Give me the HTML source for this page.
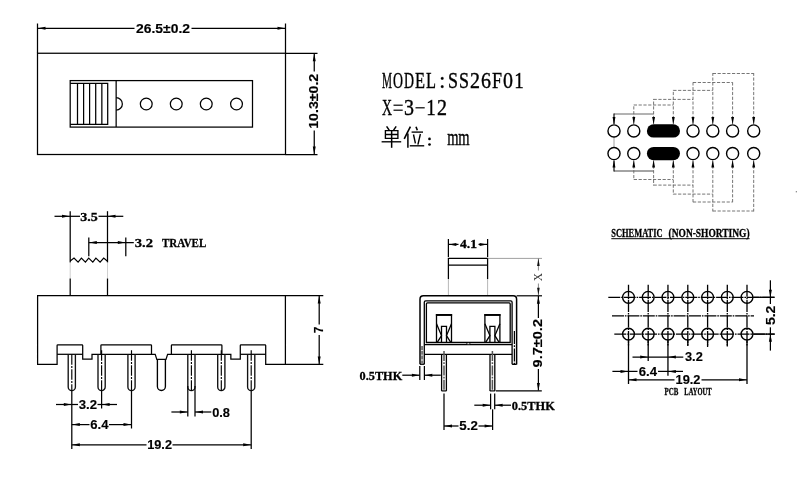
<!DOCTYPE html>
<html><head><meta charset="utf-8"><title>SS26F01</title>
<style>
html,body{margin:0;padding:0;background:#fff;}
body{width:800px;height:480px;overflow:hidden;font-family:"Liberation Sans",sans-serif;}
svg{display:block;will-change:transform;transform:translateZ(0);}
</style></head><body>
<svg width="800" height="480" viewBox="0 0 800 480">
<rect x="37.5" y="53.25" width="248.0" height="101.25" rx="0" stroke="#000" stroke-width="1.25" fill="none"/>
<line x1="37.5" y1="23.5" x2="37.5" y2="53.25" stroke="#000" stroke-width="1.25" stroke-linecap="butt"/>
<line x1="285.5" y1="23.5" x2="285.5" y2="53.25" stroke="#000" stroke-width="1.25" stroke-linecap="butt"/>
<line x1="37.5" y1="28.25" x2="134.5" y2="28.25" stroke="#000" stroke-width="1.25" stroke-linecap="butt"/>
<line x1="191.5" y1="28.25" x2="285.5" y2="28.25" stroke="#000" stroke-width="1.25" stroke-linecap="butt"/>
<polygon points="38,28.25 45.5,26.75 45.5,29.75" fill="#000"/>
<polygon points="285,28.25 277.5,26.75 277.5,29.75" fill="#000"/>
<text x="136" y="32.8" font-family="'Liberation Sans', sans-serif" font-size="12.3" font-weight="bold" fill="#000" stroke="#000" stroke-width="0.15" text-anchor="start" textLength="54" lengthAdjust="spacingAndGlyphs">26.5±0.2</text>
<line x1="285.5" y1="53.25" x2="317.5" y2="53.25" stroke="#000" stroke-width="1.25" stroke-linecap="butt"/>
<line x1="285.5" y1="154.5" x2="317.5" y2="154.5" stroke="#000" stroke-width="1.25" stroke-linecap="butt"/>
<line x1="314.25" y1="53.5" x2="314.25" y2="71.5" stroke="#000" stroke-width="1.25" stroke-linecap="butt"/>
<line x1="314.25" y1="130.5" x2="314.25" y2="154.5" stroke="#000" stroke-width="1.25" stroke-linecap="butt"/>
<polygon points="314.25,53.8 312.75,61.3 315.75,61.3" fill="#000"/>
<polygon points="314.25,154 312.75,146.5 315.75,146.5" fill="#000"/>
<text x="318" y="128.75" font-family="'Liberation Sans', sans-serif" font-size="12.3" font-weight="bold" fill="#000" stroke="#000" stroke-width="0.15" text-anchor="start" textLength="55" lengthAdjust="spacingAndGlyphs" transform="rotate(-90 318 128.75)">10.3±0.2</text>
<rect x="70.2" y="80.6" width="182.3" height="46.5" rx="0" stroke="#000" stroke-width="1.25" fill="none"/>
<path d="M70.2,83.4 H107.7 V124.4 H70.2" stroke="#000" stroke-width="1.25" fill="none" stroke-linejoin="miter"/>
<line x1="77.5" y1="83.4" x2="77.5" y2="124.4" stroke="#000" stroke-width="1.25" stroke-linecap="butt"/>
<line x1="83.6" y1="83.4" x2="83.6" y2="124.4" stroke="#000" stroke-width="1.25" stroke-linecap="butt"/>
<line x1="89.6" y1="83.4" x2="89.6" y2="124.4" stroke="#000" stroke-width="1.25" stroke-linecap="butt"/>
<line x1="95.7" y1="83.4" x2="95.7" y2="124.4" stroke="#000" stroke-width="1.25" stroke-linecap="butt"/>
<line x1="101.85" y1="83.4" x2="101.85" y2="124.4" stroke="#000" stroke-width="1.25" stroke-linecap="butt"/>
<line x1="116.15" y1="80.6" x2="116.15" y2="127.1" stroke="#000" stroke-width="1.25" stroke-linecap="butt"/>
<path d="M116.15,97.7 A6.2,6.2 0 0 1 116.15,110.1" stroke="#000" stroke-width="1.25" fill="none" stroke-linejoin="miter"/>
<circle cx="146.25" cy="104.0" r="5.9" stroke="#000" stroke-width="1.25" fill="none"/>
<circle cx="176.25" cy="104.0" r="5.9" stroke="#000" stroke-width="1.25" fill="none"/>
<circle cx="206.25" cy="104.0" r="5.9" stroke="#000" stroke-width="1.25" fill="none"/>
<circle cx="236.5" cy="104.0" r="5.9" stroke="#000" stroke-width="1.25" fill="none"/>
<text transform="translate(387.1 87.8) scale(0.473 1)" x="0" y="0" text-anchor="middle" font-family="'Liberation Serif', serif" font-size="23.8" fill="#000" stroke="#000" stroke-width="0.4">M</text>
<text transform="translate(398.1 87.8) scale(0.582 1)" x="0" y="0" text-anchor="middle" font-family="'Liberation Serif', serif" font-size="23.8" fill="#000" stroke="#000" stroke-width="0.4">O</text>
<text transform="translate(409.1 87.8) scale(0.582 1)" x="0" y="0" text-anchor="middle" font-family="'Liberation Serif', serif" font-size="23.8" fill="#000" stroke="#000" stroke-width="0.4">D</text>
<text transform="translate(420.1 87.8) scale(0.688 1)" x="0" y="0" text-anchor="middle" font-family="'Liberation Serif', serif" font-size="23.8" fill="#000" stroke="#000" stroke-width="0.4">E</text>
<text transform="translate(431.1 87.8) scale(0.688 1)" x="0" y="0" text-anchor="middle" font-family="'Liberation Serif', serif" font-size="23.8" fill="#000" stroke="#000" stroke-width="0.4">L</text>
<text transform="translate(442.1 87.8) scale(0.9 1)" x="0" y="0" text-anchor="middle" font-family="'Liberation Serif', serif" font-size="23.8" fill="#000" stroke="#000" stroke-width="0.4">:</text>
<text transform="translate(453.1 87.8) scale(0.756 1)" x="0" y="0" text-anchor="middle" font-family="'Liberation Serif', serif" font-size="23.8" fill="#000" stroke="#000" stroke-width="0.4">S</text>
<text transform="translate(464.1 87.8) scale(0.756 1)" x="0" y="0" text-anchor="middle" font-family="'Liberation Serif', serif" font-size="23.8" fill="#000" stroke="#000" stroke-width="0.4">S</text>
<text transform="translate(475.1 87.8) scale(0.84 1)" x="0" y="0" text-anchor="middle" font-family="'Liberation Serif', serif" font-size="23.8" fill="#000" stroke="#000" stroke-width="0.4">2</text>
<text transform="translate(486.1 87.8) scale(0.84 1)" x="0" y="0" text-anchor="middle" font-family="'Liberation Serif', serif" font-size="23.8" fill="#000" stroke="#000" stroke-width="0.4">6</text>
<text transform="translate(497.1 87.8) scale(0.756 1)" x="0" y="0" text-anchor="middle" font-family="'Liberation Serif', serif" font-size="23.8" fill="#000" stroke="#000" stroke-width="0.4">F</text>
<text transform="translate(508.1 87.8) scale(0.84 1)" x="0" y="0" text-anchor="middle" font-family="'Liberation Serif', serif" font-size="23.8" fill="#000" stroke="#000" stroke-width="0.4">0</text>
<text transform="translate(519.1 87.8) scale(0.8 1)" x="0" y="0" text-anchor="middle" font-family="'Liberation Serif', serif" font-size="23.8" fill="#000" stroke="#000" stroke-width="0.4">1</text>
<text transform="translate(387.1 114.8) scale(0.582 1)" x="0" y="0" text-anchor="middle" font-family="'Liberation Serif', serif" font-size="23.8" fill="#000" stroke="#000" stroke-width="0.4">X</text>
<line x1="393.5" y1="105.2" x2="402.70000000000005" y2="105.2" stroke="#000" stroke-width="1.2" stroke-linecap="butt"/>
<line x1="393.5" y1="110.2" x2="402.70000000000005" y2="110.2" stroke="#000" stroke-width="1.2" stroke-linecap="butt"/>
<text transform="translate(409.1 114.8) scale(0.84 1)" x="0" y="0" text-anchor="middle" font-family="'Liberation Serif', serif" font-size="23.8" fill="#000" stroke="#000" stroke-width="0.4">3</text>
<line x1="415.5" y1="107.8" x2="424.70000000000005" y2="107.8" stroke="#000" stroke-width="1.2" stroke-linecap="butt"/>
<text transform="translate(431.1 114.8) scale(0.8 1)" x="0" y="0" text-anchor="middle" font-family="'Liberation Serif', serif" font-size="23.8" fill="#000" stroke="#000" stroke-width="0.4">1</text>
<text transform="translate(442.1 114.8) scale(0.84 1)" x="0" y="0" text-anchor="middle" font-family="'Liberation Serif', serif" font-size="23.8" fill="#000" stroke="#000" stroke-width="0.4">2</text>
<path d="M386.6,126.3 L389.2,130.2 M396.2,126.3 L393.6,130.2" stroke="#000" stroke-width="1.5" fill="none" stroke-linejoin="miter"/>
<path d="M385.4,130.6 H397.9 V138.3 H385.4 Z M385.4,134.5 H397.9" stroke="#000" stroke-width="1.35" fill="none" stroke-linejoin="miter"/>
<path d="M391.65,130.6 V147.8" stroke="#000" stroke-width="1.5" fill="none" stroke-linejoin="miter"/>
<path d="M381.6,141.8 H401.2" stroke="#000" stroke-width="1.35" fill="none" stroke-linejoin="miter"/>
<path d="M410.4,126.6 L404.2,138.8" stroke="#000" stroke-width="1.6" fill="none" stroke-linejoin="miter"/>
<path d="M407.9,133.4 V147.8" stroke="#000" stroke-width="1.5" fill="none" stroke-linejoin="miter"/>
<path d="M416,126.8 L417.3,130.2" stroke="#000" stroke-width="1.6" fill="none" stroke-linejoin="miter"/>
<path d="M411.6,132.1 H423" stroke="#000" stroke-width="1.35" fill="none" stroke-linejoin="miter"/>
<path d="M413.5,134.5 L415.4,143.3" stroke="#000" stroke-width="1.4" fill="none" stroke-linejoin="miter"/>
<path d="M420.4,134 L417.9,144.6" stroke="#000" stroke-width="1.4" fill="none" stroke-linejoin="miter"/>
<path d="M409.8,145.8 H424.2" stroke="#000" stroke-width="1.35" fill="none" stroke-linejoin="miter"/>
<circle cx="429.5" cy="138.9" r="1.35" fill="#000"/>
<circle cx="429.5" cy="144.5" r="1.35" fill="#000"/>
<text transform="translate(453.0 145.2) scale(0.61 1)" x="0" y="0" text-anchor="middle" font-family="'Liberation Serif', serif" font-size="23.8" fill="#000" stroke="#000" stroke-width="0.4">m</text>
<text transform="translate(464.0 145.2) scale(0.61 1)" x="0" y="0" text-anchor="middle" font-family="'Liberation Serif', serif" font-size="23.8" fill="#000" stroke="#000" stroke-width="0.4">m</text>
<line x1="614" y1="114" x2="653.6" y2="114" stroke="#555" stroke-width="0.9" stroke-linecap="butt"/>
<line x1="614" y1="171" x2="653.6" y2="171" stroke="#333" stroke-width="0.9" stroke-linecap="butt"/>
<line x1="633.8" y1="105" x2="673.3" y2="105" stroke="#666" stroke-width="0.9" stroke-dasharray="3.2 1.6" stroke-linecap="butt"/>
<line x1="633.8" y1="179.5" x2="673.3" y2="179.5" stroke="#666" stroke-width="0.9" stroke-dasharray="3.2 1.6" stroke-linecap="butt"/>
<line x1="653.6" y1="99.4" x2="693" y2="99.4" stroke="#666" stroke-width="0.9" stroke-dasharray="3.2 1.6" stroke-linecap="butt"/>
<line x1="653.6" y1="185.1" x2="693" y2="185.1" stroke="#666" stroke-width="0.9" stroke-dasharray="3.2 1.6" stroke-linecap="butt"/>
<line x1="673.3" y1="90.4" x2="712.8" y2="90.4" stroke="#666" stroke-width="0.9" stroke-dasharray="3.2 1.6" stroke-linecap="butt"/>
<line x1="673.3" y1="194.1" x2="712.8" y2="194.1" stroke="#666" stroke-width="0.9" stroke-dasharray="3.2 1.6" stroke-linecap="butt"/>
<line x1="693" y1="82.5" x2="732.6" y2="82.5" stroke="#666" stroke-width="0.9" stroke-dasharray="3.2 1.6" stroke-linecap="butt"/>
<line x1="693" y1="202" x2="732.6" y2="202" stroke="#666" stroke-width="0.9" stroke-dasharray="3.2 1.6" stroke-linecap="butt"/>
<line x1="712.8" y1="73.5" x2="753.7" y2="73.5" stroke="#666" stroke-width="0.9" stroke-dasharray="3.2 1.6" stroke-linecap="butt"/>
<line x1="712.8" y1="211" x2="753.7" y2="211" stroke="#666" stroke-width="0.9" stroke-dasharray="3.2 1.6" stroke-linecap="butt"/>
<line x1="614" y1="123.9" x2="614" y2="113.55" stroke="#111" stroke-width="1.2" stroke-linecap="butt"/>
<line x1="614" y1="160.6" x2="614" y2="171.45" stroke="#111" stroke-width="1.2" stroke-linecap="butt"/>
<line x1="633.8" y1="123.9" x2="633.8" y2="104.55" stroke="#666" stroke-width="0.9" stroke-dasharray="3.2 1.6" stroke-linecap="butt"/>
<line x1="633.8" y1="160.6" x2="633.8" y2="179.95" stroke="#666" stroke-width="0.9" stroke-dasharray="3.2 1.6" stroke-linecap="butt"/>
<line x1="653.6" y1="123.9" x2="653.6" y2="98.95" stroke="#666" stroke-width="0.9" stroke-dasharray="3.2 1.6" stroke-linecap="butt"/>
<line x1="653.6" y1="160.6" x2="653.6" y2="185.54999999999998" stroke="#666" stroke-width="0.9" stroke-dasharray="3.2 1.6" stroke-linecap="butt"/>
<line x1="673.3" y1="123.9" x2="673.3" y2="89.95" stroke="#666" stroke-width="0.9" stroke-dasharray="3.2 1.6" stroke-linecap="butt"/>
<line x1="673.3" y1="160.6" x2="673.3" y2="194.54999999999998" stroke="#666" stroke-width="0.9" stroke-dasharray="3.2 1.6" stroke-linecap="butt"/>
<line x1="693" y1="123.9" x2="693" y2="82.05" stroke="#666" stroke-width="0.9" stroke-dasharray="3.2 1.6" stroke-linecap="butt"/>
<line x1="693" y1="160.6" x2="693" y2="202.45" stroke="#666" stroke-width="0.9" stroke-dasharray="3.2 1.6" stroke-linecap="butt"/>
<line x1="712.8" y1="123.9" x2="712.8" y2="73.05" stroke="#666" stroke-width="0.9" stroke-dasharray="3.2 1.6" stroke-linecap="butt"/>
<line x1="712.8" y1="160.6" x2="712.8" y2="211.45" stroke="#666" stroke-width="0.9" stroke-dasharray="3.2 1.6" stroke-linecap="butt"/>
<line x1="732.6" y1="123.9" x2="732.6" y2="82.05" stroke="#666" stroke-width="0.9" stroke-dasharray="3.2 1.6" stroke-linecap="butt"/>
<line x1="732.6" y1="160.6" x2="732.6" y2="202.45" stroke="#666" stroke-width="0.9" stroke-dasharray="3.2 1.6" stroke-linecap="butt"/>
<line x1="753.7" y1="123.9" x2="753.7" y2="73.05" stroke="#666" stroke-width="0.9" stroke-dasharray="3.2 1.6" stroke-linecap="butt"/>
<line x1="753.7" y1="160.6" x2="753.7" y2="211.45" stroke="#666" stroke-width="0.9" stroke-dasharray="3.2 1.6" stroke-linecap="butt"/>
<line x1="614" y1="136.9" x2="614" y2="147.6" stroke="#888" stroke-width="0.8" stroke-linecap="butt"/>
<polygon points="614,124.5 612.55,117.0 615.45,117.0" fill="#000"/>
<polygon points="614,160.0 612.55,167.5 615.45,167.5" fill="#000"/>
<polygon points="633.8,124.5 632.35,117.0 635.25,117.0" fill="#000"/>
<polygon points="633.8,160.0 632.35,167.5 635.25,167.5" fill="#000"/>
<polygon points="653.6,124.5 652.15,117.0 655.05,117.0" fill="#000"/>
<polygon points="653.6,160.0 652.15,167.5 655.05,167.5" fill="#000"/>
<polygon points="673.3,124.5 671.85,117.0 674.75,117.0" fill="#000"/>
<polygon points="673.3,160.0 671.85,167.5 674.75,167.5" fill="#000"/>
<polygon points="693,124.5 691.55,117.0 694.45,117.0" fill="#000"/>
<polygon points="693,160.0 691.55,167.5 694.45,167.5" fill="#000"/>
<polygon points="712.8,124.5 711.35,117.0 714.25,117.0" fill="#000"/>
<polygon points="712.8,160.0 711.35,167.5 714.25,167.5" fill="#000"/>
<polygon points="732.6,124.5 731.15,117.0 734.05,117.0" fill="#000"/>
<polygon points="732.6,160.0 731.15,167.5 734.05,167.5" fill="#000"/>
<polygon points="753.7,124.5 752.25,117.0 755.15,117.0" fill="#000"/>
<polygon points="753.7,160.0 752.25,167.5 755.15,167.5" fill="#000"/>
<circle cx="614" cy="130.9" r="6.05" stroke="#000" stroke-width="1.4" fill="#fff"/>
<circle cx="633.8" cy="130.9" r="6.05" stroke="#000" stroke-width="1.4" fill="#fff"/>
<circle cx="693" cy="130.9" r="6.05" stroke="#000" stroke-width="1.4" fill="#fff"/>
<circle cx="712.8" cy="130.9" r="6.05" stroke="#000" stroke-width="1.4" fill="#fff"/>
<circle cx="732.6" cy="130.9" r="6.05" stroke="#000" stroke-width="1.4" fill="#fff"/>
<circle cx="753.7" cy="130.9" r="6.05" stroke="#000" stroke-width="1.4" fill="#fff"/>
<rect x="646.9" y="124.2" width="33.1" height="13.4" rx="6.7" stroke="#000" stroke-width="0" fill="#000"/>
<circle cx="614" cy="153.6" r="6.05" stroke="#000" stroke-width="1.4" fill="#fff"/>
<circle cx="633.8" cy="153.6" r="6.05" stroke="#000" stroke-width="1.4" fill="#fff"/>
<circle cx="693" cy="153.6" r="6.05" stroke="#000" stroke-width="1.4" fill="#fff"/>
<circle cx="712.8" cy="153.6" r="6.05" stroke="#000" stroke-width="1.4" fill="#fff"/>
<circle cx="732.6" cy="153.6" r="6.05" stroke="#000" stroke-width="1.4" fill="#fff"/>
<circle cx="753.7" cy="153.6" r="6.05" stroke="#000" stroke-width="1.4" fill="#fff"/>
<rect x="646.9" y="146.9" width="33.1" height="13.4" rx="6.7" stroke="#000" stroke-width="0" fill="#000"/>
<text x="611.3" y="237" font-family="'Liberation Serif', serif" font-size="11.8" font-weight="bold" fill="#000" stroke="#000" stroke-width="0.3" text-anchor="start" textLength="51.3" lengthAdjust="spacingAndGlyphs">SCHEMATIC</text>
<text x="668.6" y="237" font-family="'Liberation Serif', serif" font-size="11.8" font-weight="bold" fill="#000" stroke="#000" stroke-width="0.3" text-anchor="start" textLength="81" lengthAdjust="spacingAndGlyphs">(NON-SHORTING)</text>
<line x1="611.3" y1="238.7" x2="749.6" y2="238.7" stroke="#000" stroke-width="1.0" stroke-linecap="butt"/>
<rect x="795.8" y="191" width="1" height="1.4" fill="#777"/>
<path d="M37.6,295.6 H285.4 V364.4 H265.7 V345.5 Q265.7,344.8 265,344.8 H241 Q240.3,344.8 240.3,345.5 V359.2 H230.85 V354.3 H167.6 L166,359.4 H156.8 L155.2,354.3 H92 V359.2 H82.7 V345.5 Q82.7,344.8 82,344.8 H57.8 Q57.1,344.8 57.1,345.5 V364.4 H37.6 Z" stroke="#000" stroke-width="1.25" fill="none" stroke-linejoin="miter"/>
<line x1="57.1" y1="354.3" x2="82.7" y2="354.3" stroke="#000" stroke-width="1.25" stroke-linecap="butt"/>
<line x1="240.3" y1="354.3" x2="265.7" y2="354.3" stroke="#000" stroke-width="1.25" stroke-linecap="butt"/>
<path d="M100.9,354.3 V345.5 Q100.9,344.8 101.6,344.8 H150.8 Q151.5,344.8 151.5,345.5 V354.3" stroke="#000" stroke-width="1.25" fill="none" stroke-linejoin="miter"/>
<path d="M171.4,354.3 V345.5 Q171.4,344.8 172.1,344.8 H221.2 Q221.9,344.8 221.9,345.5 V354.3" stroke="#000" stroke-width="1.25" fill="none" stroke-linejoin="miter"/>
<path d="M68.2,354.3 V387 A3.6,3.6 0 0 0 75.39999999999999,387 V354.3" stroke="#111" stroke-width="1.35" fill="none" stroke-linejoin="miter"/>
<line x1="71.8" y1="354.3" x2="71.8" y2="391" stroke="#000" stroke-width="1.15" stroke-dasharray="10.5 1.3 1.9 1.3" stroke-linecap="butt"/>
<path d="M98.0,354.3 V387 A3.6,3.6 0 0 0 105.19999999999999,387 V354.3" stroke="#111" stroke-width="1.35" fill="none" stroke-linejoin="miter"/>
<line x1="101.6" y1="350.2" x2="101.6" y2="391" stroke="#000" stroke-width="1.15" stroke-dasharray="10.5 1.3 1.9 1.3" stroke-linecap="butt"/>
<path d="M127.9,354.3 V387 A3.6,3.6 0 0 0 135.1,387 V354.3" stroke="#111" stroke-width="1.35" fill="none" stroke-linejoin="miter"/>
<line x1="131.5" y1="350.2" x2="131.5" y2="391" stroke="#000" stroke-width="1.15" stroke-dasharray="10.5 1.3 1.9 1.3" stroke-linecap="butt"/>
<path d="M187.8,354.3 V387 A3.6,3.6 0 0 0 195.0,387 V354.3" stroke="#111" stroke-width="1.35" fill="none" stroke-linejoin="miter"/>
<line x1="191.4" y1="350.2" x2="191.4" y2="391" stroke="#000" stroke-width="1.15" stroke-dasharray="10.5 1.3 1.9 1.3" stroke-linecap="butt"/>
<path d="M217.70000000000002,354.3 V387 A3.6,3.6 0 0 0 224.9,387 V354.3" stroke="#111" stroke-width="1.35" fill="none" stroke-linejoin="miter"/>
<line x1="221.3" y1="350.2" x2="221.3" y2="391" stroke="#000" stroke-width="1.15" stroke-dasharray="10.5 1.3 1.9 1.3" stroke-linecap="butt"/>
<path d="M247.6,354.3 V387 A3.6,3.6 0 0 0 254.79999999999998,387 V354.3" stroke="#111" stroke-width="1.35" fill="none" stroke-linejoin="miter"/>
<line x1="251.2" y1="350.2" x2="251.2" y2="391" stroke="#000" stroke-width="1.15" stroke-dasharray="10.5 1.3 1.9 1.3" stroke-linecap="butt"/>
<path d="M157.4,359.4 V386.5 A4,4 0 0 0 165.4,386.5 V359.4" stroke="#000" stroke-width="1.35" fill="none" stroke-linejoin="miter"/>
<line x1="70.2" y1="211.2" x2="70.2" y2="262.5" stroke="#000" stroke-width="1.25" stroke-linecap="butt"/>
<line x1="70.2" y1="262.5" x2="70.2" y2="278.5" stroke="#bbb" stroke-width="0.7" stroke-linecap="butt"/>
<line x1="70.2" y1="278.5" x2="70.2" y2="295.6" stroke="#000" stroke-width="1.25" stroke-linecap="butt"/>
<line x1="107.5" y1="211.2" x2="107.5" y2="262.5" stroke="#000" stroke-width="1.25" stroke-linecap="butt"/>
<line x1="107.5" y1="262.5" x2="107.5" y2="278.5" stroke="#bbb" stroke-width="0.7" stroke-linecap="butt"/>
<line x1="107.5" y1="278.5" x2="107.5" y2="295.6" stroke="#000" stroke-width="1.25" stroke-linecap="butt"/>
<path d="M70.2,261 L74,258.1 L78.1,262.2 L81.4,258.1 L85.4,262.2 L88.7,258.1 L92.8,262.2 L95.9,258.1 L100.1,262.2 L103.7,258.1 L107.5,261.2" stroke="#000" stroke-width="1.2" fill="none" stroke-linejoin="miter"/>
<line x1="54.5" y1="216.3" x2="70" y2="216.3" stroke="#000" stroke-width="1.25" stroke-linecap="butt"/>
<line x1="70" y1="216.3" x2="80" y2="216.3" stroke="#000" stroke-width="1.25" stroke-linecap="butt"/>
<line x1="98.5" y1="216.3" x2="107.5" y2="216.3" stroke="#000" stroke-width="1.25" stroke-linecap="butt"/>
<line x1="107.5" y1="216.3" x2="123.3" y2="216.3" stroke="#000" stroke-width="1.25" stroke-linecap="butt"/>
<polygon points="69.5,216.3 62.0,214.8 62.0,217.8" fill="#000"/>
<polygon points="108,216.3 115.5,214.8 115.5,217.8" fill="#000"/>
<text x="80.3" y="220.8" font-family="'Liberation Serif', serif" font-size="12.8" font-weight="bold" fill="#000" stroke="#000" stroke-width="0.3" text-anchor="start" textLength="17.5" lengthAdjust="spacingAndGlyphs">3.5</text>
<line x1="88.8" y1="237.5" x2="88.8" y2="256.3" stroke="#000" stroke-width="1.25" stroke-linecap="butt"/>
<line x1="125.8" y1="237.5" x2="125.8" y2="256.3" stroke="#000" stroke-width="1.25" stroke-linecap="butt"/>
<line x1="88.8" y1="242.5" x2="133.8" y2="242.5" stroke="#000" stroke-width="1.25" stroke-linecap="butt"/>
<polygon points="89.3,242.5 96.8,241.0 96.8,244.0" fill="#000"/>
<polygon points="125.3,242.5 117.8,241.0 117.8,244.0" fill="#000"/>
<text x="134.8" y="246.9" font-family="'Liberation Serif', serif" font-size="13.1" font-weight="bold" fill="#000" stroke="#000" stroke-width="0.3" text-anchor="start" textLength="18.3" lengthAdjust="spacingAndGlyphs">3.2</text>
<text x="161.9" y="246.9" font-family="'Liberation Serif', serif" font-size="13.1" font-weight="bold" fill="#000" stroke="#000" stroke-width="0.3" text-anchor="start" textLength="44.4" lengthAdjust="spacingAndGlyphs">TRAVEL</text>
<line x1="285.4" y1="295.6" x2="323.3" y2="295.6" stroke="#000" stroke-width="1.25" stroke-linecap="butt"/>
<line x1="285.4" y1="364.4" x2="323.3" y2="364.4" stroke="#000" stroke-width="1.25" stroke-linecap="butt"/>
<line x1="319.2" y1="296" x2="319.2" y2="324.5" stroke="#000" stroke-width="1.25" stroke-linecap="butt"/>
<line x1="319.2" y1="335" x2="319.2" y2="364" stroke="#000" stroke-width="1.25" stroke-linecap="butt"/>
<polygon points="319.2,296 317.7,303.5 320.7,303.5" fill="#000"/>
<polygon points="319.2,364 317.7,356.5 320.7,356.5" fill="#000"/>
<text x="322.9" y="333.3" font-family="'Liberation Sans', sans-serif" font-size="12.3" font-weight="bold" fill="#000" stroke="#000" stroke-width="0.15" text-anchor="start" textLength="6.6" lengthAdjust="spacingAndGlyphs" transform="rotate(-90 322.9 333.3)">7</text>
<line x1="71.8" y1="391" x2="71.8" y2="449" stroke="#000" stroke-width="1.25" stroke-linecap="butt"/>
<line x1="251.2" y1="391" x2="251.2" y2="449" stroke="#000" stroke-width="1.25" stroke-linecap="butt"/>
<line x1="101.6" y1="391" x2="101.6" y2="408.5" stroke="#000" stroke-width="1.25" stroke-linecap="butt"/>
<line x1="131.5" y1="391" x2="131.5" y2="428.5" stroke="#000" stroke-width="1.25" stroke-linecap="butt"/>
<line x1="56" y1="404.5" x2="71.8" y2="404.5" stroke="#000" stroke-width="1.25" stroke-linecap="butt"/>
<line x1="71.8" y1="404.5" x2="78" y2="404.5" stroke="#000" stroke-width="1.25" stroke-linecap="butt"/>
<line x1="101.6" y1="404.5" x2="117" y2="404.5" stroke="#000" stroke-width="1.25" stroke-linecap="butt"/>
<line x1="97.5" y1="404.5" x2="101.6" y2="404.5" stroke="#000" stroke-width="1.25" stroke-linecap="butt"/>
<polygon points="71.3,404.5 63.8,403.0 63.8,406.0" fill="#000"/>
<polygon points="102.1,404.5 109.6,403.0 109.6,406.0" fill="#000"/>
<text x="78.8" y="408.5" font-family="'Liberation Sans', sans-serif" font-size="12.6" font-weight="bold" fill="#000" stroke="#000" stroke-width="0.15" text-anchor="start" textLength="18.3" lengthAdjust="spacingAndGlyphs">3.2</text>
<line x1="71.8" y1="424.6" x2="89.5" y2="424.6" stroke="#000" stroke-width="1.25" stroke-linecap="butt"/>
<line x1="109" y1="424.6" x2="131.5" y2="424.6" stroke="#000" stroke-width="1.25" stroke-linecap="butt"/>
<polygon points="72.3,424.6 79.8,423.1 79.8,426.1" fill="#000"/>
<polygon points="131,424.6 123.5,423.1 123.5,426.1" fill="#000"/>
<text x="90.3" y="429" font-family="'Liberation Sans', sans-serif" font-size="12.6" font-weight="bold" fill="#000" stroke="#000" stroke-width="0.15" text-anchor="start" textLength="18.2" lengthAdjust="spacingAndGlyphs">6.4</text>
<line x1="71.8" y1="444.8" x2="146.5" y2="444.8" stroke="#000" stroke-width="1.25" stroke-linecap="butt"/>
<line x1="172.5" y1="444.8" x2="251.2" y2="444.8" stroke="#000" stroke-width="1.25" stroke-linecap="butt"/>
<polygon points="72.3,444.8 79.8,443.3 79.8,446.3" fill="#000"/>
<polygon points="250.7,444.8 243.2,443.3 243.2,446.3" fill="#000"/>
<text x="147.2" y="449.1" font-family="'Liberation Sans', sans-serif" font-size="12.6" font-weight="bold" fill="#000" stroke="#000" stroke-width="0.15" text-anchor="start" textLength="24.8" lengthAdjust="spacingAndGlyphs">19.2</text>
<line x1="187.8" y1="386" x2="187.8" y2="416.5" stroke="#000" stroke-width="1.25" stroke-linecap="butt"/>
<line x1="195" y1="386" x2="195" y2="416.5" stroke="#000" stroke-width="1.25" stroke-linecap="butt"/>
<line x1="171.4" y1="412" x2="187.8" y2="412" stroke="#000" stroke-width="1.25" stroke-linecap="butt"/>
<line x1="195" y1="412" x2="211.3" y2="412" stroke="#000" stroke-width="1.25" stroke-linecap="butt"/>
<polygon points="187.3,412 179.8,410.5 179.8,413.5" fill="#000"/>
<polygon points="195.5,412 203.0,410.5 203.0,413.5" fill="#000"/>
<text x="212.2" y="416.6" font-family="'Liberation Sans', sans-serif" font-size="12.6" font-weight="bold" fill="#000" stroke="#000" stroke-width="0.15" text-anchor="start" textLength="17.8" lengthAdjust="spacingAndGlyphs">0.8</text>
<line x1="448.4" y1="239" x2="448.4" y2="257" stroke="#000" stroke-width="1.25" stroke-linecap="butt"/>
<line x1="487.6" y1="239" x2="487.6" y2="257" stroke="#000" stroke-width="1.25" stroke-linecap="butt"/>
<line x1="448.4" y1="244.4" x2="458.5" y2="244.4" stroke="#000" stroke-width="1.25" stroke-linecap="butt"/>
<line x1="478.5" y1="244.4" x2="487.6" y2="244.4" stroke="#000" stroke-width="1.25" stroke-linecap="butt"/>
<polygon points="448.9,244.4 456.4,242.9 456.4,245.9" fill="#000"/>
<polygon points="487.1,244.4 479.6,242.9 479.6,245.9" fill="#000"/>
<text x="460" y="248.1" font-family="'Liberation Serif', serif" font-size="12.5" font-weight="bold" fill="#000" stroke="#000" stroke-width="0.3" text-anchor="start" textLength="17" lengthAdjust="spacingAndGlyphs">4.1</text>
<path d="M448.4,279 V258.4 H487.6 V279" stroke="#000" stroke-width="1.25" fill="none" stroke-linejoin="miter"/>
<line x1="448.4" y1="265" x2="487.6" y2="265" stroke="#000" stroke-width="1.25" stroke-linecap="butt"/>
<line x1="448.4" y1="279" x2="448.4" y2="295.6" stroke="#999" stroke-width="0.7" stroke-linecap="butt"/>
<line x1="487.6" y1="279" x2="487.6" y2="295.6" stroke="#999" stroke-width="0.7" stroke-linecap="butt"/>
<line x1="487.6" y1="258.4" x2="542" y2="258.4" stroke="#777" stroke-width="0.7" stroke-linecap="butt"/>
<line x1="538.4" y1="258.6" x2="538.4" y2="270.5" stroke="#555" stroke-width="0.7" stroke-linecap="butt"/>
<line x1="538.4" y1="283.5" x2="538.4" y2="295.4" stroke="#555" stroke-width="0.7" stroke-linecap="butt"/>
<polygon points="538.4,258.6 537.1,266.1 539.7,266.1" fill="#111"/>
<polygon points="538.4,295.3 537.1,287.8 539.7,287.8" fill="#111"/>
<text x="541.6" y="277" transform="rotate(-90 541.6 277)" text-anchor="middle" font-family="'Liberation Serif', serif" font-size="11.5" fill="#333">X</text>
<path d="M420,364.2 V299.2 Q420,295.8 423.4,295.8 H513.2 Q516.6,295.8 516.6,299.2 V364.4" stroke="#000" stroke-width="1.5" fill="none" stroke-linejoin="miter"/>
<line x1="516.6" y1="295.8" x2="542" y2="295.8" stroke="#000" stroke-width="1.2" stroke-linecap="butt"/>
<path d="M420,364.2 H424.4" stroke="#000" stroke-width="1.4" fill="none" stroke-linejoin="miter"/>
<path d="M512.1,364.3 H516.6" stroke="#000" stroke-width="1.4" fill="none" stroke-linejoin="miter"/>
<line x1="514.4" y1="331" x2="514.4" y2="364.2" stroke="#000" stroke-width="1.2" stroke-dasharray="13 1.3 1.8 1.3" stroke-linecap="butt"/>
<line x1="422.1" y1="346" x2="422.1" y2="363.4" stroke="#777" stroke-width="2.0" stroke-dasharray="4 0.8" stroke-linecap="butt"/>
<path d="M424.3,364.2 V302.2 Q424.3,300.8 425.7,300.8 H510.7 Q512.1,300.8 512.1,302.2 V364.3" stroke="#000" stroke-width="1.3" fill="none" stroke-linejoin="miter"/>
<line x1="424.3" y1="344.6" x2="512.1" y2="344.6" stroke="#000" stroke-width="1.2" stroke-linecap="butt"/>
<path d="M426.4,342.5 V303.9 Q426.4,302.9 427.4,302.9 H509.2 Q510.2,302.9 510.2,303.9 V342.5 Z" stroke="#000" stroke-width="1.3" fill="none" stroke-linejoin="miter"/>
<line x1="424.3" y1="354.4" x2="512.1" y2="354.4" stroke="#000" stroke-width="1.4" stroke-linecap="butt"/>
<ellipse cx="468.3" cy="343.55" rx="1.6" ry="0.9" fill="#fff" stroke="#000" stroke-width="0.8"/>
<path d="M436.5,342.5 V315 H451.5 V342.5" stroke="#000" stroke-width="1.3" fill="none" stroke-linejoin="miter"/>
<line x1="435.85" y1="314.9" x2="452.15" y2="314.9" stroke="#000" stroke-width="1.8" stroke-linecap="butt"/>
<path d="M441.5,342.5 V326.4 H446.5 V342.5" stroke="#000" stroke-width="1.3" fill="none" stroke-linejoin="miter"/>
<path d="M436.5,323.8 L441.5,335.6 L437.1,342.6 M451.5,323.8 L446.5,335.6 L450.9,342.6" stroke="#000" stroke-width="1.3" fill="none" stroke-linejoin="miter"/>
<line x1="441.6" y1="354.4" x2="441.6" y2="390.9" stroke="#000" stroke-width="1.3" stroke-linecap="butt"/>
<line x1="446.4" y1="354.4" x2="446.4" y2="390.9" stroke="#000" stroke-width="1.3" stroke-linecap="butt"/>
<line x1="441.5" y1="390.9" x2="446.5" y2="390.9" stroke="#000" stroke-width="1.2" stroke-linecap="butt"/>
<line x1="444.0" y1="351" x2="444.0" y2="390.5" stroke="#555" stroke-width="1.5" stroke-dasharray="10 1.3 1.8 1.3" stroke-linecap="butt"/>
<path d="M484.9,342.5 V315 H499.9 V342.5" stroke="#000" stroke-width="1.3" fill="none" stroke-linejoin="miter"/>
<line x1="484.25" y1="314.9" x2="500.54999999999995" y2="314.9" stroke="#000" stroke-width="1.8" stroke-linecap="butt"/>
<path d="M489.9,342.5 V326.4 H494.9 V342.5" stroke="#000" stroke-width="1.3" fill="none" stroke-linejoin="miter"/>
<path d="M484.9,323.8 L489.9,335.6 L485.5,342.6 M499.9,323.8 L494.9,335.6 L499.29999999999995,342.6" stroke="#000" stroke-width="1.3" fill="none" stroke-linejoin="miter"/>
<line x1="490.0" y1="354.4" x2="490.0" y2="390.9" stroke="#000" stroke-width="1.3" stroke-linecap="butt"/>
<line x1="494.79999999999995" y1="354.4" x2="494.79999999999995" y2="390.9" stroke="#000" stroke-width="1.3" stroke-linecap="butt"/>
<line x1="489.9" y1="390.9" x2="494.9" y2="390.9" stroke="#000" stroke-width="1.2" stroke-linecap="butt"/>
<line x1="492.4" y1="351" x2="492.4" y2="390.5" stroke="#555" stroke-width="1.5" stroke-dasharray="10 1.3 1.8 1.3" stroke-linecap="butt"/>
<line x1="538.4" y1="296" x2="538.4" y2="318" stroke="#000" stroke-width="1.25" stroke-linecap="butt"/>
<line x1="538.4" y1="369" x2="538.4" y2="390.5" stroke="#000" stroke-width="1.25" stroke-linecap="butt"/>
<polygon points="538.4,296.2 536.9,303.7 539.9,303.7" fill="#000"/>
<polygon points="538.4,390.6 536.9,383.1 539.9,383.1" fill="#000"/>
<line x1="495.8" y1="390.9" x2="541.8" y2="390.9" stroke="#000" stroke-width="1.2" stroke-linecap="butt"/>
<text x="542.4" y="367.4" font-family="'Liberation Sans', sans-serif" font-size="12.3" font-weight="bold" fill="#000" stroke="#000" stroke-width="0.15" text-anchor="start" textLength="48.4" lengthAdjust="spacingAndGlyphs" transform="rotate(-90 542.4 367.4)">9.7±0.2</text>
<text x="359.6" y="380.4" font-family="'Liberation Serif', serif" font-size="12.6" font-weight="bold" fill="#000" stroke="#000" stroke-width="0.3" text-anchor="start" textLength="42.6" lengthAdjust="spacingAndGlyphs">0.5THK</text>
<line x1="402.3" y1="375.2" x2="419.8" y2="375.2" stroke="#000" stroke-width="1.25" stroke-linecap="butt"/>
<line x1="424.4" y1="375.2" x2="440.8" y2="375.2" stroke="#000" stroke-width="1.25" stroke-linecap="butt"/>
<line x1="419.8" y1="366" x2="419.8" y2="380" stroke="#000" stroke-width="1.25" stroke-linecap="butt"/>
<line x1="424.4" y1="366" x2="424.4" y2="380" stroke="#000" stroke-width="1.25" stroke-linecap="butt"/>
<polygon points="419.4,375.2 411.9,373.7 411.9,376.7" fill="#000"/>
<polygon points="424.8,375.2 432.3,373.7 432.3,376.7" fill="#000"/>
<text x="511.8" y="409.6" font-family="'Liberation Serif', serif" font-size="12.6" font-weight="bold" fill="#000" stroke="#000" stroke-width="0.3" text-anchor="start" textLength="43" lengthAdjust="spacingAndGlyphs">0.5THK</text>
<line x1="474.3" y1="405.2" x2="490.4" y2="405.2" stroke="#000" stroke-width="1.25" stroke-linecap="butt"/>
<line x1="494.9" y1="405.2" x2="511" y2="405.2" stroke="#000" stroke-width="1.25" stroke-linecap="butt"/>
<line x1="490.6" y1="393.6" x2="490.6" y2="409.3" stroke="#000" stroke-width="1.25" stroke-linecap="butt"/>
<line x1="494.7" y1="393.6" x2="494.7" y2="409.3" stroke="#000" stroke-width="1.25" stroke-linecap="butt"/>
<polygon points="490.2,405.2 482.7,403.7 482.7,406.7" fill="#000"/>
<polygon points="495.1,405.2 502.6,403.7 502.6,406.7" fill="#000"/>
<line x1="444" y1="393.6" x2="444" y2="430" stroke="#000" stroke-width="1.25" stroke-linecap="butt"/>
<line x1="492.6" y1="409.3" x2="492.6" y2="430" stroke="#000" stroke-width="1.25" stroke-linecap="butt"/>
<line x1="444" y1="426" x2="458.5" y2="426" stroke="#000" stroke-width="1.25" stroke-linecap="butt"/>
<line x1="478.5" y1="426" x2="492.6" y2="426" stroke="#000" stroke-width="1.25" stroke-linecap="butt"/>
<polygon points="444.5,426 452.0,424.5 452.0,427.5" fill="#000"/>
<polygon points="492.1,426 484.6,424.5 484.6,427.5" fill="#000"/>
<text x="459.3" y="430.2" font-family="'Liberation Sans', sans-serif" font-size="12.6" font-weight="bold" fill="#000" stroke="#000" stroke-width="0.15" text-anchor="start" textLength="18.5" lengthAdjust="spacingAndGlyphs">5.2</text>
<line x1="608.3" y1="297.3" x2="774.7" y2="297.3" stroke="#000" stroke-width="1.3" stroke-dasharray="12 0.9 1.6 0.9" stroke-linecap="butt"/>
<line x1="614.3" y1="334.1" x2="774.7" y2="334.1" stroke="#000" stroke-width="1.3" stroke-dasharray="12 0.9 1.6 0.9" stroke-linecap="butt"/>
<line x1="612" y1="315.8" x2="754" y2="315.8" stroke="#000" stroke-width="1.3" stroke-dasharray="12 0.9 1.6 0.9" stroke-linecap="butt"/>
<line x1="628.5" y1="284.7" x2="628.5" y2="346" stroke="#000" stroke-width="1.3" stroke-dasharray="12 0.9 1.6 0.9" stroke-linecap="butt"/>
<line x1="628.5" y1="340.5" x2="628.5" y2="384" stroke="#000" stroke-width="1.3" stroke-linecap="butt"/>
<circle cx="628.5" cy="297.3" r="5.9" stroke="#000" stroke-width="1.4" fill="none"/>
<circle cx="628.5" cy="334.1" r="5.9" stroke="#000" stroke-width="1.4" fill="none"/>
<line x1="648.2" y1="284.7" x2="648.2" y2="346" stroke="#000" stroke-width="1.3" stroke-dasharray="12 0.9 1.6 0.9" stroke-linecap="butt"/>
<line x1="648.2" y1="340.5" x2="648.2" y2="361" stroke="#000" stroke-width="1.3" stroke-linecap="butt"/>
<circle cx="648.2" cy="297.3" r="5.9" stroke="#000" stroke-width="1.4" fill="none"/>
<circle cx="648.2" cy="334.1" r="5.9" stroke="#000" stroke-width="1.4" fill="none"/>
<line x1="667.95" y1="284.7" x2="667.95" y2="346" stroke="#000" stroke-width="1.3" stroke-dasharray="12 0.9 1.6 0.9" stroke-linecap="butt"/>
<line x1="667.95" y1="340.5" x2="667.95" y2="375.7" stroke="#000" stroke-width="1.3" stroke-linecap="butt"/>
<circle cx="667.95" cy="297.3" r="5.9" stroke="#000" stroke-width="1.4" fill="none"/>
<circle cx="667.95" cy="334.1" r="5.9" stroke="#000" stroke-width="1.4" fill="none"/>
<line x1="687.8" y1="284.7" x2="687.8" y2="346" stroke="#000" stroke-width="1.3" stroke-dasharray="12 0.9 1.6 0.9" stroke-linecap="butt"/>
<line x1="687.8" y1="340.5" x2="687.8" y2="346" stroke="#000" stroke-width="1.3" stroke-linecap="butt"/>
<circle cx="687.8" cy="297.3" r="5.9" stroke="#000" stroke-width="1.4" fill="none"/>
<circle cx="687.8" cy="334.1" r="5.9" stroke="#000" stroke-width="1.4" fill="none"/>
<line x1="707.6" y1="284.7" x2="707.6" y2="346" stroke="#000" stroke-width="1.3" stroke-dasharray="12 0.9 1.6 0.9" stroke-linecap="butt"/>
<line x1="707.6" y1="340.5" x2="707.6" y2="347" stroke="#000" stroke-width="1.3" stroke-linecap="butt"/>
<circle cx="707.6" cy="297.3" r="5.9" stroke="#000" stroke-width="1.4" fill="none"/>
<circle cx="707.6" cy="334.1" r="5.9" stroke="#000" stroke-width="1.4" fill="none"/>
<line x1="727.3" y1="284.7" x2="727.3" y2="346" stroke="#000" stroke-width="1.3" stroke-dasharray="12 0.9 1.6 0.9" stroke-linecap="butt"/>
<line x1="727.3" y1="340.5" x2="727.3" y2="346.5" stroke="#000" stroke-width="1.3" stroke-linecap="butt"/>
<circle cx="727.3" cy="297.3" r="5.9" stroke="#000" stroke-width="1.4" fill="none"/>
<circle cx="727.3" cy="334.1" r="5.9" stroke="#000" stroke-width="1.4" fill="none"/>
<line x1="747.0" y1="284.7" x2="747.0" y2="346" stroke="#000" stroke-width="1.3" stroke-dasharray="12 0.9 1.6 0.9" stroke-linecap="butt"/>
<line x1="747.0" y1="340.5" x2="747.0" y2="384" stroke="#000" stroke-width="1.3" stroke-linecap="butt"/>
<circle cx="747.0" cy="297.3" r="5.9" stroke="#000" stroke-width="1.4" fill="none"/>
<circle cx="747.0" cy="334.1" r="5.9" stroke="#000" stroke-width="1.4" fill="none"/>
<line x1="770.4" y1="280.3" x2="770.4" y2="304" stroke="#000" stroke-width="1.25" stroke-linecap="butt"/>
<line x1="770.4" y1="327.3" x2="770.4" y2="350.6" stroke="#000" stroke-width="1.25" stroke-linecap="butt"/>
<line x1="753.5" y1="297.3" x2="774.7" y2="297.3" stroke="#000" stroke-width="1.3" stroke-linecap="butt"/>
<line x1="753.5" y1="334.1" x2="774.7" y2="334.1" stroke="#000" stroke-width="1.3" stroke-linecap="butt"/>
<polygon points="770.4,297.2 768.9,289.7 771.9,289.7" fill="#000"/>
<polygon points="770.4,334.2 768.9,341.7 771.9,341.7" fill="#000"/>
<text x="775.3" y="325.1" font-family="'Liberation Sans', sans-serif" font-size="12.6" font-weight="bold" fill="#000" stroke="#000" stroke-width="0.15" text-anchor="start" textLength="19.5" lengthAdjust="spacingAndGlyphs" transform="rotate(-90 775.3 325.1)">5.2</text>
<line x1="632.5" y1="357.1" x2="683.3" y2="357.1" stroke="#000" stroke-width="1.25" stroke-linecap="butt"/>
<polygon points="647.7,357.1 640.2,355.6 640.2,358.6" fill="#000"/>
<polygon points="668.4,357.1 675.9,355.6 675.9,358.6" fill="#000"/>
<text x="685" y="361.4" font-family="'Liberation Sans', sans-serif" font-size="12.6" font-weight="bold" fill="#000" stroke="#000" stroke-width="0.15" text-anchor="start" textLength="17.8" lengthAdjust="spacingAndGlyphs">3.2</text>
<line x1="612.4" y1="371.4" x2="628.5" y2="371.4" stroke="#000" stroke-width="1.25" stroke-linecap="butt"/>
<line x1="628.5" y1="371.4" x2="637.5" y2="371.4" stroke="#000" stroke-width="1.25" stroke-linecap="butt"/>
<line x1="658" y1="371.4" x2="667.95" y2="371.4" stroke="#000" stroke-width="1.25" stroke-linecap="butt"/>
<line x1="667.95" y1="371.4" x2="683" y2="371.4" stroke="#000" stroke-width="1.25" stroke-linecap="butt"/>
<polygon points="628,371.4 620.5,369.9 620.5,372.9" fill="#000"/>
<polygon points="668.4,371.4 675.9,369.9 675.9,372.9" fill="#000"/>
<text x="638.7" y="376.1" font-family="'Liberation Sans', sans-serif" font-size="12.6" font-weight="bold" fill="#000" stroke="#000" stroke-width="0.15" text-anchor="start" textLength="18.3" lengthAdjust="spacingAndGlyphs">6.4</text>
<line x1="628.5" y1="379.8" x2="674.5" y2="379.8" stroke="#000" stroke-width="1.25" stroke-linecap="butt"/>
<line x1="701.5" y1="379.8" x2="747" y2="379.8" stroke="#000" stroke-width="1.25" stroke-linecap="butt"/>
<polygon points="629,379.8 636.5,378.3 636.5,381.3" fill="#000"/>
<polygon points="746.5,379.8 739.0,378.3 739.0,381.3" fill="#000"/>
<text x="675.5" y="384.4" font-family="'Liberation Sans', sans-serif" font-size="12.6" font-weight="bold" fill="#000" stroke="#000" stroke-width="0.15" text-anchor="start" textLength="25" lengthAdjust="spacingAndGlyphs">19.2</text>
<text x="664.6" y="395.3" font-family="'Liberation Serif', serif" font-size="9.8" font-weight="bold" fill="#000" stroke="#000" stroke-width="0.3" text-anchor="start" textLength="13.8" lengthAdjust="spacingAndGlyphs">PCB</text>
<text x="684.3" y="395.3" font-family="'Liberation Serif', serif" font-size="9.8" font-weight="bold" fill="#000" stroke="#000" stroke-width="0.3" text-anchor="start" textLength="27.3" lengthAdjust="spacingAndGlyphs">LAYOUT</text>
</svg>
</body></html>
